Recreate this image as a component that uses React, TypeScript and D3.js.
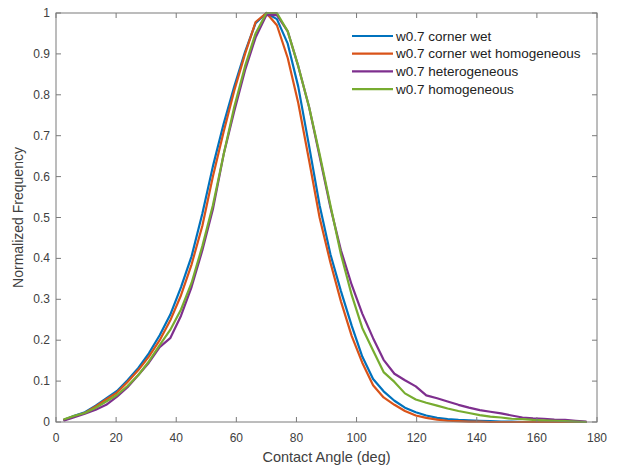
import React from 'react';
import * as d3 from 'd3';

const angles = [
  2.5, 6.1, 9.6, 13.2, 16.7, 20.3, 23.8, 27.4, 30.9, 34.5,
  38.0, 41.6, 45.1, 48.7, 52.2, 55.8, 59.3, 62.9, 66.4, 70.0,
  73.5, 77.1, 80.6, 84.2, 87.7, 91.3, 94.8, 98.4, 101.9, 105.5,
  109.0, 112.6, 116.1, 119.7, 123.2, 126.8, 130.3, 133.9, 137.4, 141.0,
  144.5, 148.1, 151.6, 155.2, 158.7, 162.3, 165.8, 169.4, 172.9, 176.5,
];

const cornerWet = [
  0.005, 0.015, 0.024, 0.04, 0.058, 0.076, 0.102, 0.132, 0.168, 0.212,
  0.262, 0.33, 0.405, 0.51, 0.625, 0.73, 0.82, 0.905, 0.975, 1.0,
  0.985, 0.925, 0.82, 0.675, 0.53, 0.41, 0.32, 0.235, 0.16, 0.105,
  0.075, 0.052, 0.035, 0.024, 0.016, 0.01, 0.007, 0.005, 0.004, 0.003,
  0.002, 0.001, 0.001, 0, 0, 0, 0, 0, 0, 0,
];

const cornerWetHomog = [
  0.005, 0.014, 0.022, 0.038, 0.055, 0.072, 0.098, 0.127, 0.16, 0.2,
  0.248, 0.31, 0.385, 0.48, 0.6, 0.71, 0.81, 0.9, 0.978, 1.0,
  0.97, 0.89, 0.78, 0.64, 0.5, 0.39, 0.295, 0.21, 0.145, 0.09,
  0.06, 0.042, 0.027, 0.016, 0.01, 0.006, 0.003, 0.002, 0.001, 0.001,
  0, 0, 0, 0, 0, 0, 0, 0, 0, 0,
];

const heterogeneous = [
  0.003, 0.012, 0.02, 0.03, 0.042, 0.062, 0.085, 0.115, 0.145, 0.183,
  0.205, 0.26, 0.33, 0.42, 0.52, 0.655, 0.76, 0.86, 0.94, 0.995,
  0.995, 0.955, 0.87, 0.77, 0.65, 0.525, 0.42, 0.335, 0.265, 0.205,
  0.152, 0.118, 0.102, 0.087, 0.065, 0.058, 0.05, 0.042, 0.035, 0.029,
  0.025, 0.021, 0.016, 0.011, 0.009, 0.008, 0.006, 0.005, 0.003, 0.001,
];

const homogeneous = [
  0.006, 0.015, 0.022, 0.035, 0.05, 0.066, 0.088, 0.115, 0.148, 0.188,
  0.225, 0.275, 0.34, 0.43, 0.53, 0.655, 0.77, 0.87, 0.95, 1.0,
  1.0, 0.955, 0.87, 0.77, 0.655, 0.53, 0.41, 0.31, 0.23, 0.175,
  0.122, 0.098, 0.07, 0.055, 0.047, 0.04, 0.033, 0.027, 0.022, 0.017,
  0.013, 0.011, 0.008, 0.007, 0.005, 0.004, 0.003, 0.002, 0.001, 0,
];

const seriesNames = [
  'w0.7 corner wet',
  'w0.7 corner wet homogeneous',
  'w0.7 heterogeneous',
  'w0.7 homogeneous',
];
const seriesValues = [cornerWet, cornerWetHomog, heterogeneous, homogeneous];
const colors = ['#0072BD', '#D95319', '#7E2F8E', '#77AC30'];

const xTicks = [0, 20, 40, 60, 80, 100, 120, 140, 160, 180];
const yTicks = [0, 0.1, 0.2, 0.3, 0.4, 0.5, 0.6, 0.7, 0.8, 0.9, 1];

const width = 618;
const height = 467;
const margin = { top: 13, right: 21, bottom: 45, left: 56 };
const font = 'Liberation Sans, Arial, Helvetica, sans-serif';
const axisColor = '#7a7a7a';
const textColor = '#404040';

export default function App() {
  const x = d3.scaleLinear().domain([0, 180]).range([margin.left, width - margin.right]);
  const y = d3.scaleLinear().domain([0, 1]).range([height - margin.bottom, margin.top]);

  const line = d3
    .line<number>()
    .x((_, i) => x(angles[i]))
    .y((d) => y(d));

  const x0 = x(0), x1 = x(180), y0 = y(0), y1 = y(1);
  const tk = 5;

  return (
    <svg
      width={width}
      height={height}
      style={{ position: 'absolute', left: 0, top: 0, background: '#fff' }}
      fontFamily={font}
    >
      <rect x={0} y={0} width={width} height={height} fill="#fff" />
      {seriesValues.map((vals, i) => (
        <path
          key={seriesNames[i]}
          d={line(vals) || ''}
          fill="none"
          stroke={colors[i]}
          strokeWidth={2.2}
          strokeLinejoin="round"
        />
      ))}

      {/* box */}
      <rect x={x0} y={y1} width={x1 - x0} height={y0 - y1} fill="none" stroke={axisColor} strokeWidth={1} />

      {xTicks.map((t) => (
        <g key={'x' + t}>
          <line x1={x(t)} x2={x(t)} y1={y0} y2={y0 - tk} stroke={axisColor} />
          <line x1={x(t)} x2={x(t)} y1={y1} y2={y1 + tk} stroke={axisColor} />
          <text x={x(t)} y={y0 + 20} textAnchor="middle" fontSize={12} fill={textColor}>
            {t}
          </text>
        </g>
      ))}
      {yTicks.map((t) => (
        <g key={'y' + t}>
          <line x1={x0} x2={x0 + tk} y1={y(t)} y2={y(t)} stroke={axisColor} />
          <line x1={x1} x2={x1 - tk} y1={y(t)} y2={y(t)} stroke={axisColor} />
          <text x={x0 - 6} y={y(t) + 4} textAnchor="end" fontSize={12} fill={textColor}>
            {String(t)}
          </text>
        </g>
      ))}

      <text x={(x0 + x1) / 2} y={462} textAnchor="middle" fontSize={14.5} fill={textColor}>
        Contact Angle (deg)
      </text>
      <text
        transform={`translate(23, ${(y0 + y1) / 2}) rotate(-90)`}
        textAnchor="middle"
        fontSize={14}
        fill={textColor}
      >
        Normalized Frequency
      </text>

      {seriesNames.map((name, i) => (
        <g key={'leg' + i} transform={`translate(352, ${36 + i * 17.7})`}>
          <line x1={0} x2={41} y1={0} y2={0} stroke={colors[i]} strokeWidth={2.2} />
          <text x={44} y={4.5} fontSize={13.5} fill="#222">
            {name}
          </text>
        </g>
      ))}
    </svg>
  );
}
